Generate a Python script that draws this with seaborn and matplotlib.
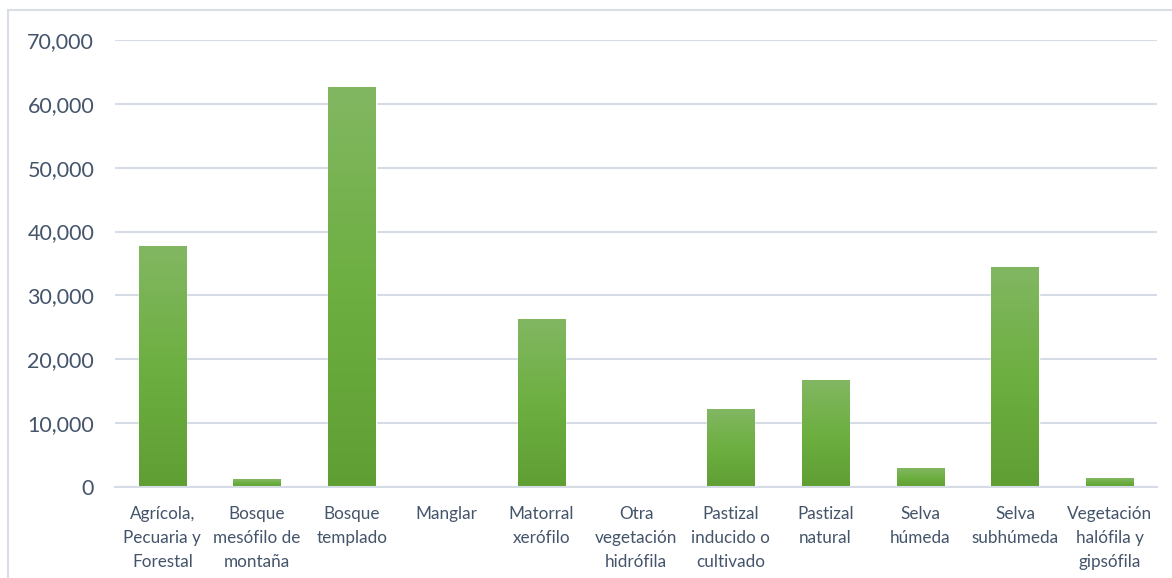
import numpy as np
import pandas as pd
import matplotlib
matplotlib.use("Agg")
import matplotlib.pyplot as plt
import seaborn as sns
from matplotlib.colors import LinearSegmentedColormap
from matplotlib.patches import Rectangle
from matplotlib.ticker import FuncFormatter

categories = ["Agrícola,\nPecuaria y\nForestal", "Bosque\nmesófilo de\nmontaña", "Bosque\ntemplado",
              "Manglar", "Matorral\nxerófilo", "Otra\nvegetación\nhidrófila", "Pastizal\ninducido o\ncultivado",
              "Pastizal\nnatural", "Selva\nhúmeda", "Selva\nsubhúmeda", "Vegetación\nhalófila y\ngipsófila"]
values = [37600, 1250, 62600, 0, 26300, 150, 12200, 16750, 2950, 34450, 1400]

sns.set_theme(style="white")
plt.rcParams['font.family'] = ['Lato', 'DejaVu Sans']
text_color = "#44546A"

fig = plt.figure(figsize=(11.72, 5.78), dpi=100)
ax = fig.add_axes([115/1172, 1 - 487/578, (1157-115)/1172, (487-40)/578])

df = pd.DataFrame({"cat": categories, "val": values})
sns.barplot(data=df, x="cat", y="val", color="#70AD47", width=0.5, ax=ax, saturation=1)

cmap = LinearSegmentedColormap.from_list("g", ["#5F9E33", "#6DAF41", "#82B762"])
grad = np.linspace(0, 1, 256).reshape(-1, 1)
for p in ax.patches:
    x0, y0 = p.get_x(), p.get_y()
    w, h = p.get_width(), p.get_height()
    if h <= 0:
        continue
    ax.imshow(grad, extent=[x0, x0 + w, y0, y0 + h], origin="lower", cmap=cmap,
              aspect="auto", zorder=p.get_zorder() + 0.1, interpolation="bicubic")

ax.set_xlim(-0.5, len(categories) - 0.5)
ax.set_ylim(0, 70000)
ax.set_yticks(np.arange(0, 70001, 10000))
ax.yaxis.set_major_formatter(FuncFormatter(lambda v, _: f"{int(v):,}"))
ax.grid(axis="y", color="#D6DCE5", linewidth=1.5)
ax.set_axisbelow(True)
for s in ["top", "right", "left"]:
    ax.spines[s].set_visible(False)
ax.spines["bottom"].set_color("#D6DCE5")
ax.spines["bottom"].set_linewidth(1.5)
ax.set_xlabel("")
ax.set_ylabel("")
ax.tick_params(axis="y", labelsize=15.5, colors=text_color, length=0, pad=15)
ax.tick_params(axis="x", labelsize=12.3, colors=text_color, length=0, pad=14)
for lab in ax.get_xticklabels():
    lab.set_linespacing(1.6)

fig.patches.append(Rectangle((8/1172, -0.01), 1.1, 1 - 10/578 + 0.01, transform=fig.transFigure,
                             fill=False, edgecolor="#D9DEE6", linewidth=1.5))

fig.savefig("out.png", dpi=100)
